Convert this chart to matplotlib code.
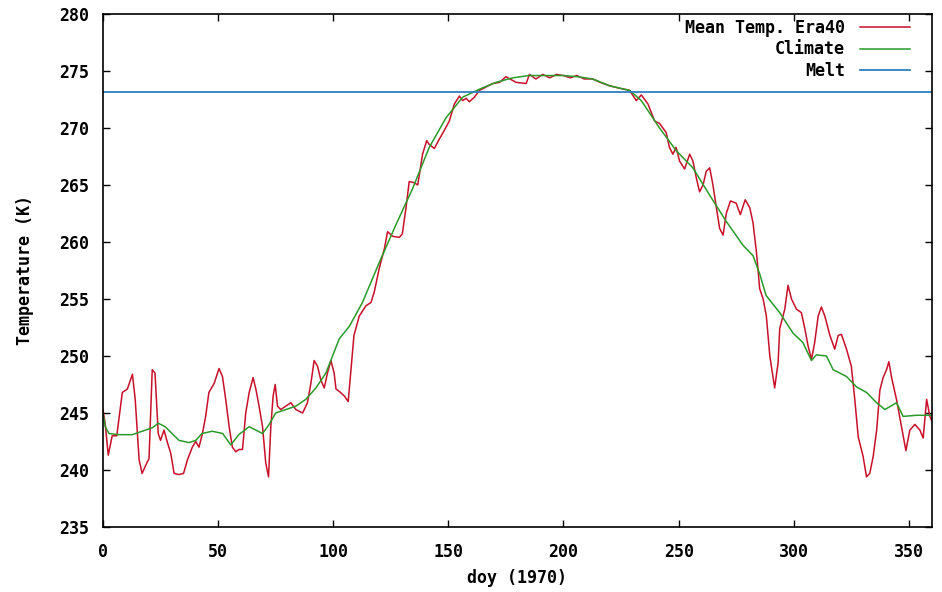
import matplotlib
matplotlib.use('Agg')
import matplotlib.pyplot as plt

# day of year and daily mean temperature (K)
era40_day = [0, 1, 2.3, 4, 6, 8.4, 10.6, 12.8, 14, 15.7, 17, 19, 20, 21.4, 22.6, 24, 25, 26.5,
             28, 29.4, 30.9, 33, 35, 36.7, 38.8, 40.3, 41.7, 43.2, 44.6, 46, 48.3, 50.4, 51.9,
             53.3, 54.8, 56.2, 57.7, 59.1, 60.6, 62, 63.5, 65.2, 66.4, 67.8, 69.3, 70.7, 71.9,
             72.9, 73.9, 74.8, 75.8, 77.2, 79.4, 81.6, 83.8, 86.7, 88.8, 90.3, 91.7, 93.2, 94.6,
             96.1, 97.5, 99, 100.4, 101.2, 102.6, 104.8, 106.5, 109, 111.3, 114.2, 116.4, 117.8,
             120, 122.2, 123.6, 125.8, 128.7, 130, 131.6, 133, 135.2, 136.7, 138.8, 140.6, 141.5,
             143.9, 146, 148, 150.4, 152.6, 154.8, 156.2, 157.7, 159.1, 161.3, 163.5, 166.4,
             169.3, 172.2, 175, 179.4, 183.8, 185.2, 188, 191, 194, 197, 200, 203, 205.7, 209,
             212.7, 216, 220, 224, 228.7, 231.6, 233.8, 236.7, 239.6, 241.7, 244.6, 246, 247.5,
             248.9, 250.4, 252.6, 254.8, 256.2, 257.7, 259.1, 260.6, 262, 263.5, 264.9, 266.4,
             267.8, 269.3, 270.7, 272.5, 275, 276.8, 278.9, 280.9, 282.3, 283.8, 285.2, 286.7,
             288.1, 289.6, 291.7, 293.2, 293.9, 296.1, 297.5, 299, 301.2, 303.3, 304.8, 306.2,
             307.7, 309.1, 310.6, 312, 313.5, 315.7, 317.8, 319.3, 320.7, 322.9, 325, 326.5, 328,
             330.1, 331.6, 333, 334.5, 336, 337.4, 338.8, 340.3, 341.3, 342.5, 344.6, 346.8,
             348.7, 350.4, 352.6, 354.8, 356.2, 357.7, 359.1, 360]
era40_temp = [245.3, 244.0, 241.3, 243, 243, 246.8, 247.1, 248.4, 246.2, 240.9, 239.7, 240.6, 241.0,
              248.8, 248.5, 243.2, 242.6, 243.5, 242.4, 241.5, 239.7, 239.6, 239.7, 240.9, 242,
              242.5, 242, 243.2, 244.7, 246.8, 247.6, 248.9, 248.2, 246.2, 243.8, 242, 241.6,
              241.8, 241.8, 245, 246.8, 248.1, 247.1, 245.6, 243.8, 240.6, 239.4, 243.8, 246.5,
              247.5, 245.6, 245.3, 245.6, 245.9, 245.3, 245, 245.9, 247.6, 249.6, 249.1, 247.9,
              247.2, 248.5, 249.6, 248.5, 247.1, 246.9, 246.5, 246.0, 251.8, 253.5, 254.4, 254.7,
              255.6, 257.7, 259.4, 260.9, 260.5, 260.4, 260.7, 263, 265.3, 265.2, 265, 267.7,
              268.9, 268.6, 268.2, 269, 269.7, 270.6, 272.1, 272.8, 272.4, 272.6, 272.3, 272.7,
              273.3, 273.6, 273.9, 274.0, 274.5, 274.0, 273.9, 274.7, 274.3, 274.7, 274.4, 274.7,
              274.6, 274.4, 274.6, 274.3, 274.3, 274.0, 273.7, 273.5, 273.3, 272.4, 272.9, 272.1,
              270.6, 270.4, 269.6, 268.3, 267.7, 268.3, 267.1, 266.4, 267.7, 267.1, 265.6, 264.4,
              265, 266.2, 266.5, 265, 263, 261.2, 260.6, 262.5, 263.6, 263.4, 262.4, 263.7, 263.0,
              261.7, 259.1, 255.9, 255.0, 253.5, 250.0, 247.2, 249.4, 252.4, 254.1, 256.2, 255,
              254.1, 253.8, 252.4, 250.9, 249.7, 251.2, 253.5, 254.3, 253.5, 251.8, 250.6, 251.8,
              251.9, 250.6, 249.1, 246.2, 242.9, 241.2, 239.4, 239.7, 241.2, 243.5, 247, 248.1,
              248.8, 249.5, 248.1, 246.2, 243.8, 241.7, 243.5, 244, 243.5, 242.8, 246.2, 244.7,
              244.3]

climate_day = [0, 1, 2.6, 7, 12.8, 17, 21.4, 24, 27, 30, 33, 37.4, 40.3, 43, 47.5, 52, 55.5, 59,
               63.5, 66.4, 69.3, 72.2, 75, 79.4, 83.8, 88.1, 92.5, 96.8, 99.7, 102.6, 107, 112.7,
               120, 127.2, 134.5, 141.7, 149, 156.2, 163.5, 170.7, 178, 185, 192, 200, 206, 212.7,
               220, 228.7, 233.8, 241.7, 249, 256.2, 263.5, 270.7, 278, 282.3, 285.2, 288, 293.9,
               299.7, 303.9, 307.7, 309.8, 314.2, 317.1, 322.9, 327.2, 331.6, 336, 339.6, 344.6,
               347.5, 353.3, 360]
climate_temp = [245.0, 243.8, 243.2, 243.1, 243.1, 243.4, 243.7, 244.1, 243.8, 243.2, 242.6, 242.4,
                242.6, 243.2, 243.4, 243.2, 242.2, 243.1, 243.8, 243.5, 243.2, 244, 245, 245.3,
                245.6, 246.2, 247.2, 248.5, 250, 251.5, 252.6, 254.7, 258.2, 261.5, 264.7, 268.3,
                270.9, 272.7, 273.4, 274.0, 274.4, 274.6, 274.6, 274.6, 274.5, 274.3, 273.7, 273.3,
                272.4, 270.0, 268.0, 266.5, 264.1, 261.8, 259.7, 258.8, 257.2, 255.3, 253.8, 252,
                251.2, 249.6, 250.1, 250, 248.8, 248.2, 247.3, 246.8, 245.9, 245.3, 245.9, 244.7,
                244.8, 244.8]

melt_temp = 273.15

plt.rcParams['font.family'] = ['DejaVu Sans Mono']
plt.rcParams['font.weight'] = 'bold'

fig = plt.figure(figsize=(9.42, 5.92), dpi=100)
ax = fig.add_axes([0.1093, 0.1098, 0.8800, 0.8666])

ax.plot(era40_day, era40_temp, color='#c8102a', lw=1.1, label='Mean Temp. Era40')
ax.plot(climate_day, climate_temp, color='#2a9a2a', lw=1.1, label='Climate')
ax.axhline(melt_temp, color='#2f7fc1', lw=1.3, label='Melt')

ax.set_xlim(0, 360)
ax.set_ylim(235, 280)
ax.set_xticks(range(0, 360, 50))
ax.set_yticks(range(235, 281, 5))
ax.tick_params(direction='in', top=True, right=True, length=5, width=1,
               labelsize=12, pad=10)
ax.tick_params(axis='x', pad=11.5)
for s in ax.spines.values():
    s.set_linewidth(1.2)

ax.set_xlabel('doy (1970)', fontsize=12, fontweight='bold', labelpad=6)
ax.set_ylabel('Temperature (K)', fontsize=12, fontweight='bold', labelpad=18)

ax.legend(loc='upper right', bbox_to_anchor=(0.9815, 1.003), frameon=False,
          markerfirst=False, fontsize=12, handlelength=3.0, handletextpad=0.9,
          labelspacing=0.2, borderaxespad=0.0)

plt.savefig('out.png', dpi=100)
plt.close()
